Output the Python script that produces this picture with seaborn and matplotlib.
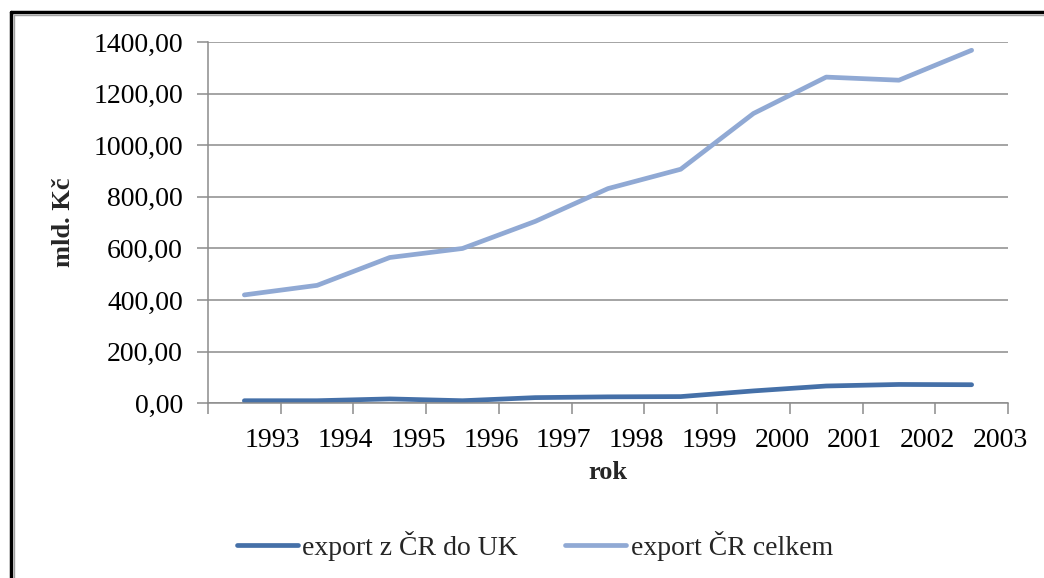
import numpy as np
import pandas as pd
import matplotlib
matplotlib.use("Agg")
import matplotlib.pyplot as plt
import seaborn as sns
from matplotlib.lines import Line2D

years = ["1993", "1994", "1995", "1996", "1997", "1998", "1999", "2000", "2001", "2002", "2003"]
export_uk = [10, 10, 17, 10, 22, 25, 26, 48, 67, 73, 72]
export_total = [420, 457, 565, 600, 705, 832, 907, 1123, 1264, 1252, 1368]
series_names = ["export z ČR do UK", "export ČR celkem"]
y_ticks = [0, 200, 400, 600, 800, 1000, 1200, 1400]

sns.set_theme(style="white")
plt.rcParams['font.family'] = ['Liberation Serif', 'DejaVu Serif']

pos = np.arange(len(years)) + 0.5
df = pd.DataFrame({
    "pos": np.concatenate([pos, pos]),
    "value": export_uk + export_total,
    "series": [series_names[0]] * len(years) + [series_names[1]] * len(years),
})

FS = 20

fig = plt.figure(figsize=(10.44, 5.78), dpi=100)
ax = fig.add_axes([208 / 1044, 1 - 403.3 / 578, 800 / 1044, 361.3 / 578])

palette = {series_names[0]: "#4570A8", series_names[1]: "#90A9D4"}
sns.lineplot(data=df, x="pos", y="value", hue="series", palette=palette,
             linewidth=3.4, ax=ax, legend=False, solid_capstyle="round")

ax.set_xlim(0, len(years))
ax.set_ylim(0, 1400)
ax.set_yticks(y_ticks)
ax.set_yticklabels([f"{v},00" for v in y_ticks], fontsize=FS)

# major ticks on category boundaries (no labels), labels on minor ticks slightly left of them
ax.set_xticks(np.arange(len(years) + 1))
ax.set_xticklabels([])
ax.set_xticks(np.arange(1, len(years) + 1) - 0.11, minor=True)
ax.set_xticklabels(years, minor=True, fontsize=FS)

ax.grid(axis="y", color="#8C8C8C", linewidth=1.1)
ax.set_axisbelow(True)
for s in ["top", "right"]:
    ax.spines[s].set_visible(False)
for s in ["left", "bottom"]:
    ax.spines[s].set_color("#8C8C8C")
    ax.spines[s].set_linewidth(1.1)
ax.tick_params(axis="both", which="major", direction="out", length=8, width=1.1, color="#8C8C8C",
               labelcolor="black", bottom=True, left=True)
ax.tick_params(axis="y", pad=10)
ax.tick_params(axis="x", which="minor", length=0, bottom=True, pad=18, labelcolor="black")

ax.set_xlabel("rok", fontsize=19, fontweight="bold")
ax.set_ylabel("mld. Kč", fontsize=19, fontweight="bold")
ax.xaxis.set_label_coords(0.5, -0.16)
ax.yaxis.set_label_coords(-0.166, 0.5)

handles = [Line2D([0], [0], color=palette[n], linewidth=3.4, solid_capstyle="round") for n in series_names]
fig.legend(handles, series_names, loc="center", bbox_to_anchor=(535 / 1044, 1 - 546 / 578),
           ncol=2, frameon=False, fontsize=FS, handlelength=2.2, handletextpad=0.15,
           columnspacing=1.7)

# outer frame (left and top edges visible)
fig.add_artist(Line2D([11 / 1044, 11 / 1044], [0, 1 - 12 / 578], transform=fig.transFigure,
                      color="black", linewidth=2.5))
fig.add_artist(Line2D([11 / 1044, 1], [1 - 12 / 578, 1 - 12 / 578], transform=fig.transFigure,
                      color="black", linewidth=2.5))
fig.add_artist(Line2D([13.5 / 1044, 13.5 / 1044], [0, 1 - 14.5 / 578], transform=fig.transFigure,
                      color="#A0A0A0", linewidth=1))
fig.add_artist(Line2D([13.5 / 1044, 1], [1 - 14.5 / 578, 1 - 14.5 / 578], transform=fig.transFigure,
                      color="#A0A0A0", linewidth=1))

fig.savefig("out.png", dpi=100)
